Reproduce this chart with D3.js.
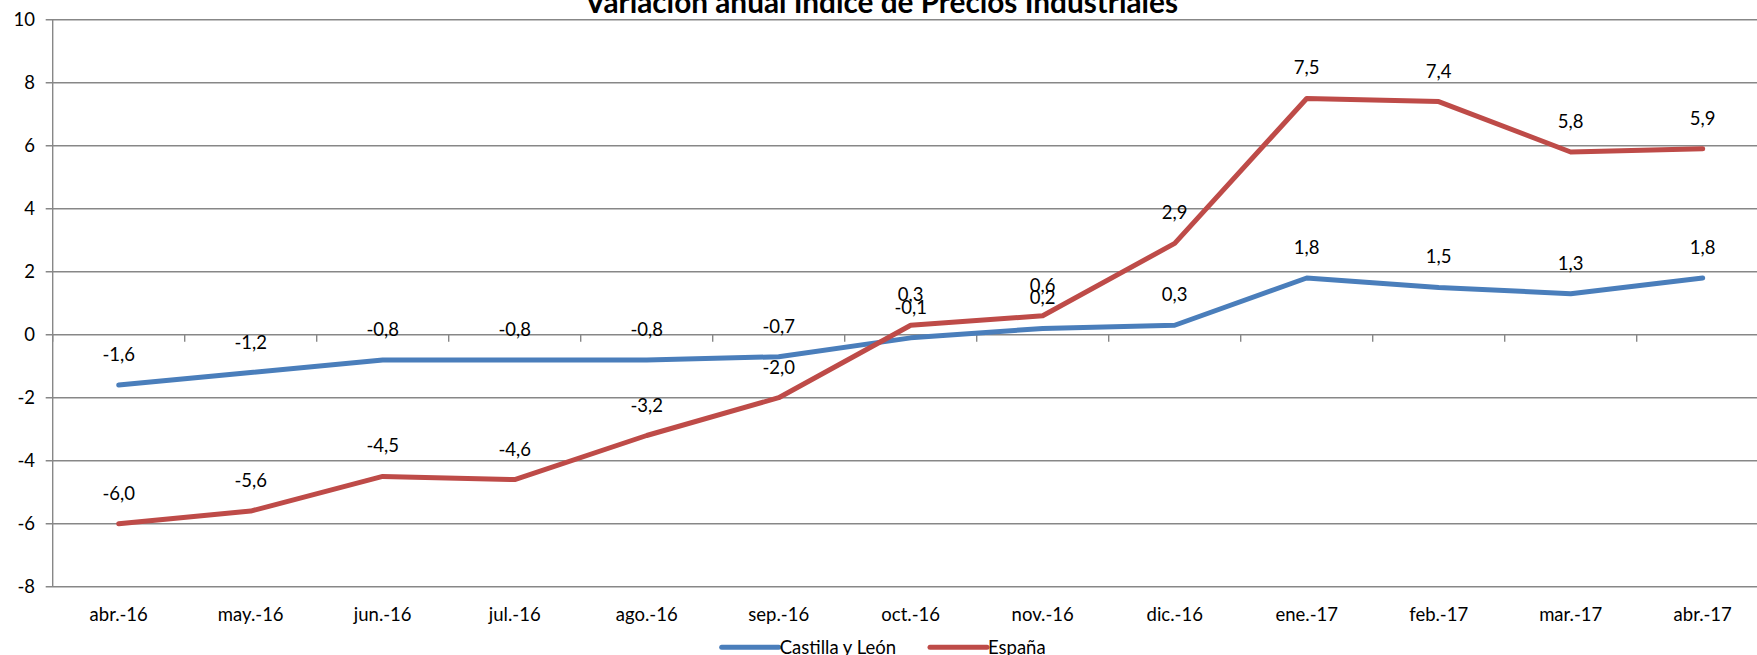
<!DOCTYPE html>
<html>
<head>
<meta charset="utf-8">
<script src="https://cdn.jsdelivr.net/npm/d3@7"></script>
<style>
html, body { margin: 0; padding: 0; background: #fff; }
svg { display: block; font-family: Lato, "Open Sans", sans-serif; }
</style>
</head>
<body>
<svg id="chart" width="1757" height="655"></svg>
<script>
const titleText = "Variación anual Índice de Precios Industriales";
const categories = ["abr.-16","may.-16","jun.-16","jul.-16","ago.-16","sep.-16","oct.-16","nov.-16","dic.-16","ene.-17","feb.-17","mar.-17","abr.-17"];
const castillaLeon = [-1.6,-1.2,-0.8,-0.8,-0.8,-0.7,-0.1,0.2,0.3,1.8,1.5,1.3,1.8];
const espana = [-6.0,-5.6,-4.5,-4.6,-3.2,-2.0,0.3,0.6,2.9,7.5,7.4,5.8,5.9];
const yTicks = [-8,-6,-4,-2,0,2,4,6,8,10];
const seriesNames = ["Castilla y León","España"];
const seriesColors = ["#4A7EBB","#BE4B48"];

const svg = d3.select("#chart");
const W = 1757;
const FS = 18.5;
const left = 52.7, bandW = 132;
const x = d3.scaleBand().domain(categories).range([left, left + bandW*categories.length]).padding(0);
const y = d3.scaleLinear().domain([-8,10]).range([586.7, 19.7]);
const cx = d => x(d) + x.bandwidth()/2;
const grid = "#878787";
const fmt = v => d3.format(".1f")(v).replace(".", ",").replace("\u2212", "-");

// gridlines
svg.append("g").selectAll("line").data(yTicks).join("line")
  .attr("x1", left - 7).attr("x2", W)
  .attr("y1", d => y(d)).attr("y2", d => y(d))
  .attr("stroke", grid).attr("stroke-width", 1.4);

// y axis line
svg.append("line").attr("x1", left).attr("x2", left)
  .attr("y1", y(10)).attr("y2", y(-8)).attr("stroke", grid).attr("stroke-width", 1.4);

// y tick labels
const yAxis = d3.axisLeft(y).tickValues(yTicks).tickSize(0).tickPadding(0)
  .tickFormat(d => d3.format("d")(d).replace("\u2212", "-"));
const ya = svg.append("g").attr("transform", `translate(${35},0)`).call(yAxis);
ya.select(".domain").remove();
ya.selectAll("text").attr("font-size", FS).attr("font-family", "Lato, sans-serif").attr("fill", "#000");

// category boundary ticks on zero line
const bounds = categories.map(c => x(c)).concat([x(categories[categories.length-1]) + x.bandwidth()]);
svg.append("g").selectAll("line").data(bounds).join("line")
  .attr("x1", d => d).attr("x2", d => d)
  .attr("y1", y(0)).attr("y2", y(0) + 7)
  .attr("stroke", grid).attr("stroke-width", 1.4);

// category labels
const xAxis = d3.axisBottom(x).tickSize(0).tickPadding(0);
const xa = svg.append("g").attr("transform", `translate(0,${y(-8)})`).call(xAxis);
xa.select(".domain").remove();
xa.selectAll("text").attr("font-size", FS).attr("font-family", "Lato, sans-serif").attr("fill", "#000")
  .attr("dy", null).attr("y", 34.3);

// lines
const seriesData = [castillaLeon, espana];
const line = d3.line().x((d,i) => cx(categories[i])).y(d => y(d));
seriesData.forEach((s, k) => {
  svg.append("path").datum(s).attr("d", line)
    .attr("fill", "none").attr("stroke", seriesColors[k]).attr("stroke-width", 5)
    .attr("stroke-linejoin", "round").attr("stroke-linecap", "round");
});

// data labels
seriesData.forEach((s, k) => {
  svg.append("g").selectAll("text").data(s).join("text")
    .attr("x", (d,i) => cx(categories[i]))
    .attr("y", d => y(d) - 24)
    .attr("text-anchor", "middle").attr("font-size", FS).attr("fill", "#000")
    .text(d => fmt(d));
});

// title
const t = svg.append("text").attr("x", 881.5).attr("y", 12.5).attr("text-anchor", "middle")
  .attr("font-size", 23).attr("font-weight", "bold").attr("fill", "#000").text(titleText);
const tw = t.node().getComputedTextLength();
t.attr("font-size", 23 * 593 / tw);

// legend
const legX = [721.7, 930];
seriesNames.forEach((n, k) => {
  const g = svg.append("g");
  g.append("line").attr("x1", legX[k]).attr("x2", legX[k] + 57)
    .attr("y1", 647.3).attr("y2", 647.3)
    .attr("stroke", seriesColors[k]).attr("stroke-width", 5).attr("stroke-linecap", "round");
  g.append("text").attr("x", legX[k] + 58).attr("y", 653.5).attr("font-size", FS).attr("fill", "#000").text(n);
});
</script>
</body>
</html>
